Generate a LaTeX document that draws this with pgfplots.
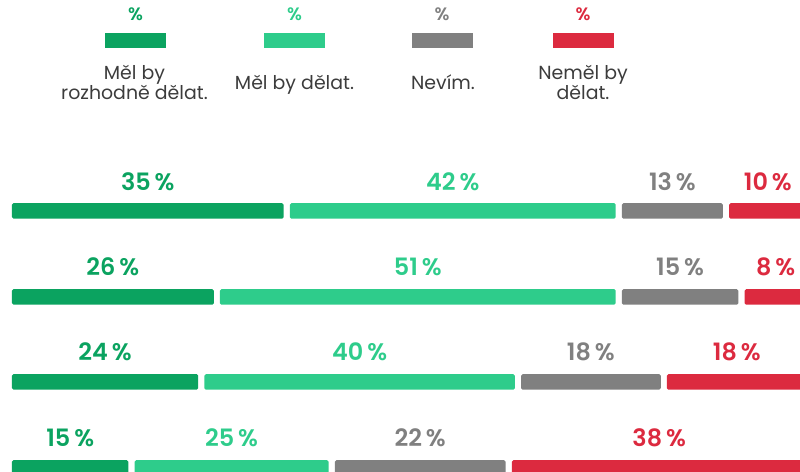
\documentclass[border=0pt]{standalone}
\usepackage{pgfplots}
\usepackage{pgfplotstable}
\pgfplotsset{compat=1.18}
\usepackage{fontspec}
\setmainfont{Poppins}
\newfontfamily\semib{Poppins SemiBold}
\definecolor{cA}{HTML}{0BA360}
\definecolor{cB}{HTML}{2ECC8B}
\definecolor{cC}{HTML}{808080}
\definecolor{cD}{HTML}{DC2A3F}
\definecolor{txt}{HTML}{3C3C3C}

% y = row position (pixel units from bottom)
\pgfplotstableread{
y   a   gap    b   c   d
261 35  0.8    42  13  10
175 26  0.8    51  15  8
90  24  0.8    40  18  18
4   15  0.8    25  22  38
}\data

\begin{document}
\begin{tikzpicture}[x=1bp,y=1bp]
\useasboundingbox (0,0) rectangle (800,472);
\begin{axis}[at={(0,0)}, anchor=south west,
  width=800bp, height=472bp, scale only axis, hide axis,
  xmin=-1.546, xmax=101.546, ymin=0, ymax=472,
  xbar stacked, bar width=15.5bp, clip=true,
  every axis plot/.append style={draw=none, rounded corners=1.5bp}]
\addplot[fill=cA] table[x=a,y=y]{\data};
\addplot[fill=none] table[x=gap,y=y]{\data};
\addplot[fill=cB] table[x=b,y=y]{\data};
\addplot[fill=none] table[x=gap,y=y]{\data};
\addplot[fill=cC] table[x=c,y=y]{\data};
\addplot[fill=none] table[x=gap,y=y]{\data};
\addplot[fill=cD] table[x=d,y=y]{\data};

\tikzset{lab/.style={inner sep=0pt, font=\semib\fontsize{24}{24}\selectfont}}
% row 1
\node[lab,text=cA] at (axis cs:17.5,290.5) {35\,\%};
\node[lab,text=cB] at (axis cs:56.8,290.5) {42\,\%};
\node[lab,text=cC] at (axis cs:85.1,290.5) {13\,\%};
\node[lab,text=cD] at (axis cs:97.4,290.5) {10\,\%};
% row 2
\node[lab,text=cA] at (axis cs:13,205) {26\,\%};
\node[lab,text=cB] at (axis cs:52.3,205) {51\,\%};
\node[lab,text=cC] at (axis cs:86.1,205) {15\,\%};
\node[lab,text=cD] at (axis cs:98.4,205) {8\,\%};
% row 3
\node[lab,text=cA] at (axis cs:12,120) {24\,\%};
\node[lab,text=cB] at (axis cs:44.8,120) {40\,\%};
\node[lab,text=cC] at (axis cs:74.6,120) {18\,\%};
\node[lab,text=cD] at (axis cs:93.4,120) {18\,\%};
% row 4
\node[lab,text=cA] at (axis cs:7.5,34.5) {15\,\%};
\node[lab,text=cB] at (axis cs:28.3,34.5) {25\,\%};
\node[lab,text=cC] at (axis cs:52.6,34.5) {22\,\%};
\node[lab,text=cD] at (axis cs:83.4,34.5) {38\,\%};
\end{axis}

% legend
\tikzset{pct/.style={anchor=base, inner sep=0pt, font=\semib\fontsize{18}{18}\selectfont},
         nm/.style={anchor=base, inner sep=0pt, text=txt, font=\fontsize{19}{20}\selectfont}}
\node[pct,text=cA] at (135.5,451) {\%};
\node[pct,text=cB] at (294.5,451) {\%};
\node[pct,text=cC] at (442,451) {\%};
\node[pct,text=cD] at (583,451) {\%};
\fill[cA] (105,439) rectangle (166,424);
\fill[cB] (264,439) rectangle (325,424);
\fill[cC] (412,439) rectangle (473,424);
\fill[cD] (553,439) rectangle (614,424);
\node[nm] at (134.5,392) {Měl by};
\node[nm] at (134.5,372) {rozhodně dělat.};
\node[nm] at (294.5,382) {Měl by dělat.};
\node[nm] at (443,382) {Nevím.};
\node[nm] at (583,392) {Neměl by};
\node[nm] at (583,372) {dělat.};
\end{tikzpicture}
\end{document}
